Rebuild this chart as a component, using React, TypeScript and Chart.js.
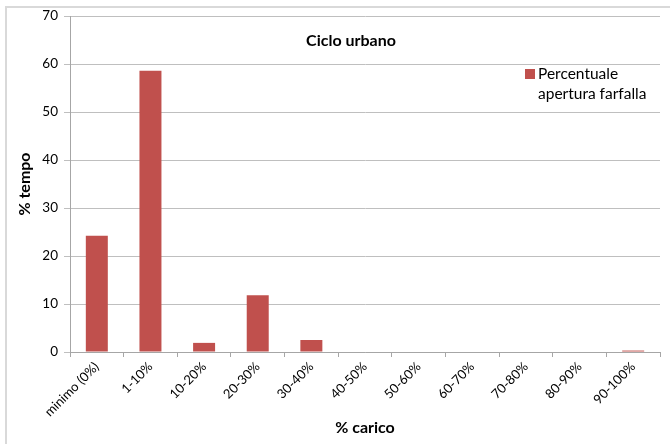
import React, { useEffect, useRef } from "react";
import { Chart, registerables } from "chart.js";

Chart.register(...registerables);

const categories = ["minimo (0%)", "1-10%", "10-20%", "20-30%", "30-40%", "40-50%", "50-60%", "60-70%", "70-80%", "80-90%", "90-100%"];
const values = [24.2, 58.6, 1.9, 11.8, 2.5, 0.1, 0.1, 0, 0.1, 0, 0.3];
const seriesLabel = "Percentuale apertura farfalla";
const legendLines = ["Percentuale", "apertura farfalla"];
const chartTitle = "Ciclo urbano";
const xTitle = "% carico";
const yTitle = "% tempo";
const yTicks = [0, 10, 20, 30, 40, 50, 60, 70];

const FONT = "Lato, 'Open Sans', sans-serif";
const BAR = "#C0504D";

export default function App() {
  const ref = useRef<HTMLCanvasElement | null>(null);
  useEffect(() => {
    document.body.style.margin = "0";
    const overlay = {
      id: "overlay",
      afterDraw(chart: any) {
        const ctx = chart.ctx;
        ctx.save();
        // title
        ctx.fillStyle = "#000";
        ctx.font = `bold 16px ${FONT}`;
        ctx.textAlign = "center";
        ctx.textBaseline = "middle";
        ctx.fillText(chartTitle, 351, 41);
        // legend
        const color = chart.data.datasets[0].backgroundColor;
        ctx.fillStyle = color;
        ctx.fillRect(525, 69, 10, 10);
        ctx.fillStyle = "#000";
        ctx.font = `15.5px ${FONT}`;
        ctx.textAlign = "left";
        ctx.fillText(legendLines[0], 538, 74);
        ctx.fillText(legendLines[1], 538, 94);
        // axis titles
        ctx.font = `bold 16px ${FONT}`;
        ctx.textAlign = "center";
        ctx.fillText(xTitle, 365, 428);
        ctx.translate(25, 184);
        ctx.rotate(-Math.PI / 2);
        ctx.fillText(yTitle, 0, 0);
        ctx.restore();
      },
    };
    const chart = new Chart(ref.current!, {
      type: "bar",
      data: {
        labels: categories,
        datasets: [
          {
            label: seriesLabel,
            data: values,
            backgroundColor: BAR,
            categoryPercentage: 1,
            barPercentage: 0.41,
          },
        ],
      },
      options: {
        animation: false,
        responsive: false,
        maintainAspectRatio: false,
        layout: { padding: { top: 16, left: 0, right: 10, bottom: 0 } },
        plugins: { legend: { display: false }, title: { display: false }, tooltip: { enabled: false } },
        scales: {
          x: {
            grid: {
              display: true,
              offset: true,
              drawOnChartArea: false,
              color: "#a6a6a6",
              tickLength: 5,
            },
            border: { color: "#a6a6a6" },
            ticks: {
              minRotation: 45,
              maxRotation: 45,
              autoSkip: false,
              color: "#000",
              font: { family: FONT, size: 13 },
              padding: 2,
            },
            afterFit(scale: any) {
              scale.height = 92;
            },
          },
          y: {
            min: 0,
            max: 70,
            afterBuildTicks(scale: any) {
              scale.ticks = yTicks.map((v) => ({ value: v }));
            },
            grid: { color: "#bfbfbf", tickLength: 6 },
            border: { color: "#a6a6a6" },
            ticks: {
              color: "#000",
              font: { family: FONT, size: 13.5 },
              padding: 6,
            },
            afterFit(scale: any) {
              scale.width = 70;
            },
          },
        },
      },
      plugins: [overlay],
    });
    return () => chart.destroy();
  }, []);
  return (
    <div style={{ position: "relative", width: 670, height: 444, background: "#fff" }}>
      <div
        style={{
          position: "absolute",
          left: 5,
          top: 6,
          right: 0,
          bottom: 0,
          borderLeft: "2px solid #d9d9d9",
          borderTop: "2px solid #d9d9d9",
        }}
      />
      <canvas ref={ref} width={670} height={444} style={{ position: "absolute", left: 0, top: 0 }} />
    </div>
  );
}
